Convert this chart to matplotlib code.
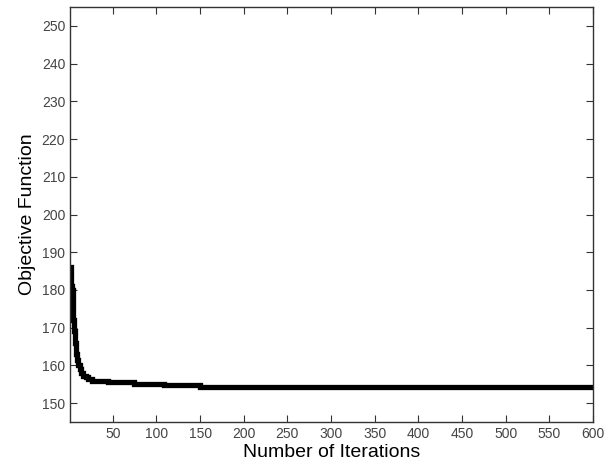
import numpy as np
import matplotlib.pyplot as plt

plt.rcParams['font.family'] = ['Liberation Sans', 'DejaVu Sans']

iterations = [1, 2, 3, 4, 5, 6, 7, 8, 9, 10, 12, 14, 16, 19, 22, 26, 35, 45, 74, 109, 150, 600]
objective = [186, 181, 180, 176, 172, 169, 166, 163, 161.5, 160, 159, 158, 157.3, 156.8, 156.3, 156.0, 155.8, 155.5, 155.1, 154.7, 154.4, 154.4]

fig = plt.figure(figsize=(6.09, 4.70), dpi=100)
ax = fig.add_axes([70 / 609, 48 / 470, 523 / 609, 415 / 470])

ax.plot(iterations, objective, color='black', linewidth=3.8, drawstyle='steps-post',
        solid_joinstyle='miter')

ax.set_xlim(1, 600)
ax.set_ylim(145, 255)
ax.set_xticks(np.arange(50, 601, 50))
ax.set_yticks(np.arange(150, 251, 10))
ax.tick_params(direction='in', length=5, width=0.8, labelsize=10, top=True, right=True,
               colors='#333333', labelcolor='#444444')
for s in ax.spines.values():
    s.set_linewidth(1.0)
    s.set_color('#333333')

ax.set_xlabel('Number of Iterations', fontsize=14, labelpad=2)
ax.set_ylabel('Objective Function', fontsize=14, labelpad=4)

fig.savefig('out.png', dpi=100)
